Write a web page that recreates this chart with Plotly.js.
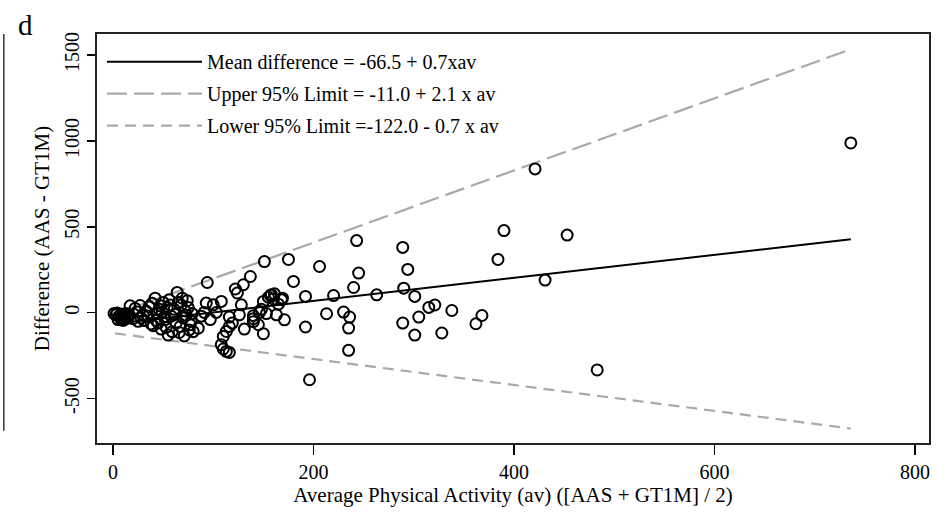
<!DOCTYPE html>
<html>
<head>
<meta charset="utf-8">
<script src="https://cdn.plot.ly/plotly-3.0.1.min.js"></script>
<style>html,body{margin:0;padding:0;background:#fff;}#chart{width:949px;height:512px;}</style>
</head>
<body>
<div id="chart"></div>
<script>
// Average physical activity (av) and difference (AAS - GT1M)
const avg = [
  1,3,4,6,8,9,11,12,14,5,7,10,13,15,16,
  17,22,27,30,33,36,38,25,20,35,40,28,39,31,24,
  42,44,46,48,50,52,54,56,58,45,49,53,57,59,47,51,55,43,
  61,63,64,66,68,70,72,74,76,78,62,65,67,69,71,73,75,77,79,80,
  85,91,93,94,100,97,88,
  103,108,108,110,113,116,110,113,116,116,122,124,126,128,130,131,119,
  137,140,140,140,146,150,150,151,155,157,158,160,161,163,168,171,165,153,145,148,
  175,180,169,192,206,213,192,220,230,236,235,235,196,240,243,245,263,
  289,290,294,289,301,305,301,315,321,338,328,362,368,384,390,421,431,453,483,736
];
const diff = [
  -5,-12,-2,-20,-8,-30,-15,-38,-22,-40,-28,-45,-5,-30,-12,
  40,25,42,-10,10,35,-65,-50,-35,-20,-75,-30,55,-45,5,
  85,-5,20,-95,60,-40,30,75,-20,-60,5,-85,45,-110,40,-25,-130,-45,
  20,-60,118,-115,45,-30,10,70,-100,-50,-10,60,-80,85,-135,-15,30,-70,-5,-110,
  -90,2,56,176,46,-40,-20,
  2,66,-186,-211,-225,-231,-138,-109,-80,-25,138,115,-12,46,163,-95,-60,
  211,-17,-35,-52,2,66,-122,298,90,100,105,80,110,-12,76,-41,50,-5,-70,20,
  310,182,85,95,269,-6,-83,100,4,-25,-89,-219,-390,147,420,231,104,
  380,143,252,-60,95,-25,-130,31,45,13,-118,-64,-16,310,478,837,190,452,-333,988
];
// Fitted lines (endpoints)
const lineAv = [2, 736];
const meanLine = [-64, 428];
const upperLine = [-7, 1533];
const lowerLine = [-120, -674];
const legendNames = [
  "Mean difference = -66.5 + 0.7xav",
  "Upper 95% Limit = -11.0 + 2.1 x av",
  "Lower 95% Limit =-122.0 - 0.7 x av"
];
const xTicks = [0, 200, 400, 600, 800];
const yTicks = [-500, 0, 500, 1000, 1500];

const serif = "Liberation Serif, Times New Roman, serif";
const gray = "#a9a9a9";

const traces = [
  {x: lineAv, y: meanLine, mode: "lines", name: legendNames[0], legendgroup: "a",
   line: {color: "#000", width: 2}},
  {x: lineAv, y: upperLine, mode: "lines", name: legendNames[1], legendgroup: "b",
   line: {color: gray, width: 2.2, dash: "20px,7px"}},
  {x: lineAv, y: lowerLine, mode: "lines", name: legendNames[2], legendgroup: "c",
   line: {color: gray, width: 2.2, dash: "11px,7px"}},
  {x: avg, y: diff, mode: "markers", showlegend: false,
   marker: {symbol: "circle-open", size: 11, color: "#000", line: {width: 2, color: "#000"}}}
];

const layout = {
  width: 949, height: 512,
  margin: {l: 97, r: 20, t: 34, b: 69},
  paper_bgcolor: "#fff", plot_bgcolor: "#fff",
  showlegend: true,
  font: {family: serif, color: "#000", size: 20},
  xaxis: {
    range: [-16, 814], tickvals: xTicks, ticktext: xTicks.map(String),
    showgrid: false, zeroline: false,
    showline: true, mirror: true, linecolor: "#222", linewidth: 2,
    ticks: "outside", ticklen: 10, tickwidth: 1.5, tickcolor: "#000",
    tickfont: {family: serif, size: 20},
    title: {text: "Average Physical Activity (av) ([AAS + GT1M] / 2)", font: {family: serif, size: 21}, standoff: 4}
  },
  yaxis: {
    range: [-758, 1622], tickvals: yTicks, ticktext: yTicks.map(String),
    showgrid: false, zeroline: false,
    showline: true, mirror: true, linecolor: "#222", linewidth: 2,
    ticks: "outside", ticklen: 8, tickwidth: 1.5, tickcolor: "#000",
    tickangle: -90, tickfont: {family: serif, size: 20},
    title: {text: "Difference (AAS - GT1M)", font: {family: serif, size: 21}, standoff: 6}
  },
  legend: {
    x: 0.006, y: 0.980, xanchor: "left", yanchor: "top", xref: "paper", yref: "paper",
    bgcolor: "rgba(0,0,0,0)", borderwidth: 0, itemwidth: 95,
    traceorder: "grouped", tracegroupgap: 3,
    font: {family: serif, size: 20, color: "#000"}
  },
  shapes: [
    {type: "line", xref: "paper", yref: "paper", x0: -0.112, x1: -0.112, y0: 1.0, y1: 0.03,
     line: {color: "#333", width: 1.5}}
  ],
  annotations: [
    {text: "d", xref: "paper", yref: "paper", x: -0.086, y: 1.022, xanchor: "center", yanchor: "middle",
     showarrow: false, font: {family: serif, size: 29, color: "#000"}}
  ]
};

Plotly.newPlot("chart", traces, layout, {displayModeBar: false, staticPlot: true});
</script>
</body>
</html>
